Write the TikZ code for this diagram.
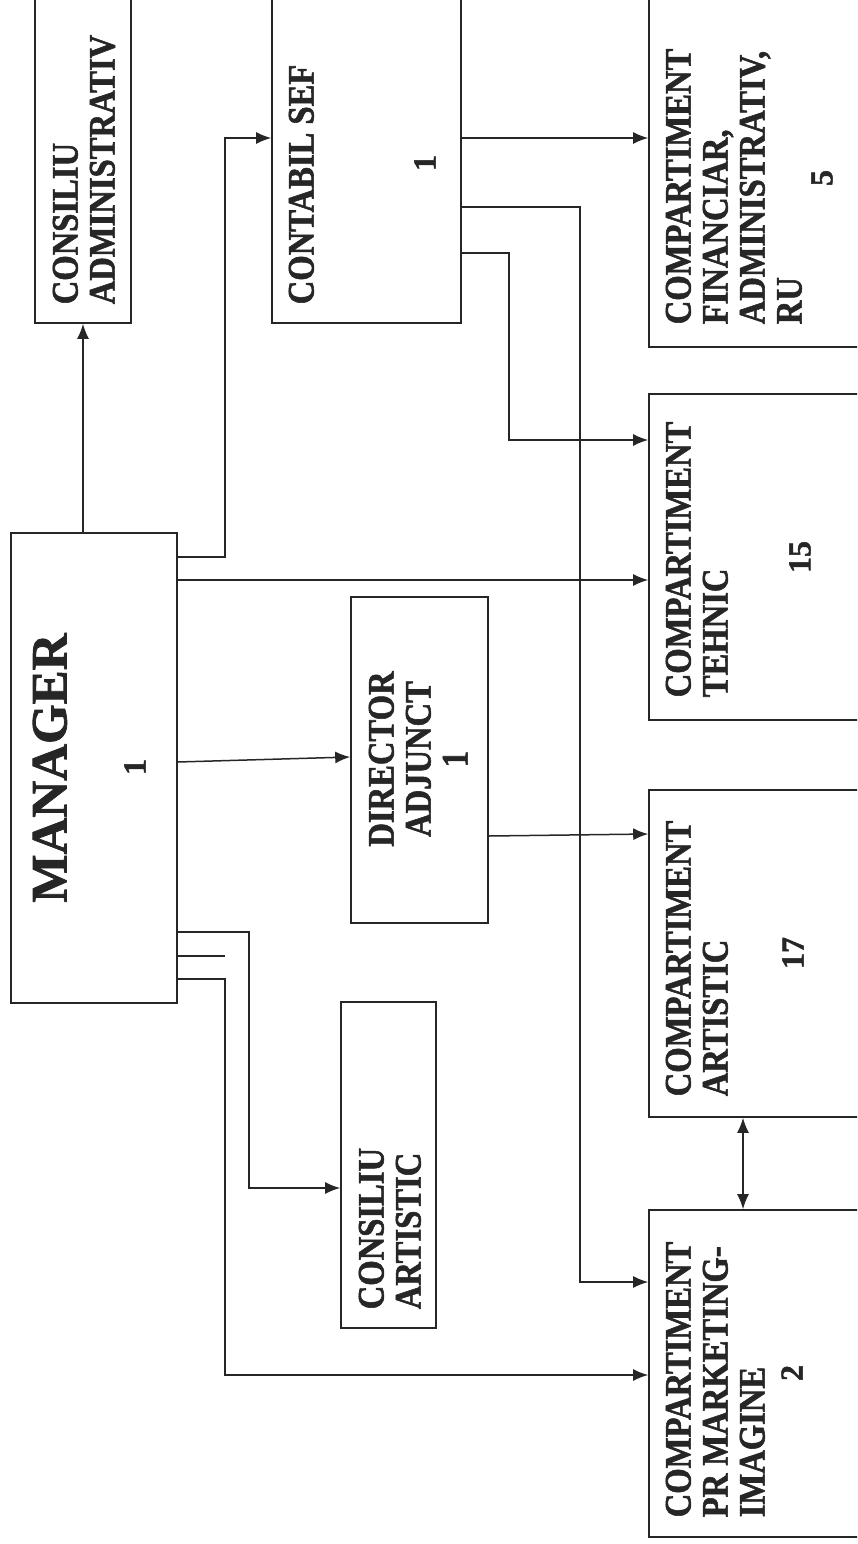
\documentclass[tikz,border=0pt]{standalone}
\usepackage{fontspec}
\setmainfont{Liberation Serif}
\newfontfamily\lblfont{Liberation Serif}[UprightFont=* Bold, FakeStretch=0.87, FakeBold=1.5]
\newfontfamily\manfont{Liberation Serif}[UprightFont=* Bold, FakeBold=1.5]
\usetikzlibrary{arrows.meta}
\tikzset{
  box/.style={draw, line width=1.6pt, inner sep=0pt},
  lbl/.style={rotate=90, anchor=north west, align=left, inner sep=0pt, font=\lblfont\fontsize{37.5}{37}\selectfont},
  num/.style={rotate=90, inner sep=0pt, font=\manfont\fontsize{32}{37}\selectfont},
  arr/.style={-{Latex[length=15pt,width=12pt]}},
  arrboth/.style={{Latex[length=15pt,width=12pt]}-{Latex[length=15pt,width=12pt]}}
}
\begin{document}
\begin{tikzpicture}[x=1pt, y=-1pt, line width=1.5pt, color=black!85]
\useasboundingbox (0,0) rectangle (857,1544);
\clip (0,0) rectangle (857,1544);
\node[box, minimum width=166pt, minimum height=470pt] (man) at (94,768) {};
\node[box, minimum width=96pt, minimum height=363pt] (cadm) at (83,141.5) {};
\node[box, minimum width=189pt, minimum height=363pt] (csef) at (366.5,141.5) {};
\node[box, minimum width=248pt, minimum height=387pt] (fin) at (773,153.5) {};
\node[box, minimum width=248pt, minimum height=326pt] (teh) at (773,557) {};
\node[box, minimum width=137pt, minimum height=326pt] (dir) at (419.5,760) {};
\node[box, minimum width=248pt, minimum height=327pt] (art) at (773,953.5) {};
\node[box, minimum width=95pt, minimum height=326pt] (cart) at (388.5,1165) {};
\node[box, minimum width=248pt, minimum height=327pt] (pr) at (773,1373.5) {};
\node[lbl, anchor=north, font=\manfont\fontsize{51}{60}\selectfont] (man_t) at (32,768) {MANAGER};
\node[num] (man_n) at (135,767) {1};
\node[lbl] (cadm_t) at (52,305) {CONSILIU\\ADMINISTRATIV};
\node[lbl] (csef_t) at (288,305) {CONTABIL SEF};
\node[num] (csef_n) at (425,163) {1};
\node[lbl] (fin_t) at (665,325) {COMPARTIMENT\\FINANCIAR,\\ADMINISTRATIV,\\RU};
\node[num] (fin_n) at (822,178) {5};
\node[lbl] (teh_t) at (665,698) {COMPARTIMENT\\TEHNIC};
\node[num] (teh_n) at (800,557) {15};
\node[lbl, anchor=north, align=center] (dir_t) at (368,759) {DIRECTOR\\ADJUNCT\\1};
\node[lbl] (art_t) at (665,1097) {COMPARTIMENT\\ARTISTIC};
\node[num] (art_n) at (793,953) {17};
\node[lbl] (cart_t) at (358,1310) {CONSILIU\\ARTISTIC};
\node[lbl] (pr_t) at (665,1518) {COMPARTIMENT\\PR MARKETING-\\IMAGINE};
\node[num] (pr_n) at (792,1373) {2};
\draw[arr] (cadm.south |- man.north) -- (cadm.south);
\draw[arr] (man.east |- 0,557) -- ++(47,0) |- (csef.west |- 0,138);
\draw[arr] (man.east |- 0,580) -- (teh.west |- 0,580);
\draw[arr] (man.east |- 0,762) -- (dir.west |- 0,757);
\draw[arr] (dir.east |- 0,836) -- (art.west |- 0,834);
\draw[arr] (csef.east |- 0,138) -- (fin.west |- 0,138);
\draw[arr] (csef.east |- 0,207) -- ++(118,0) |- (pr.west |- 0,1282);
\draw[arr] (csef.east |- 0,253) -- ++(47,0) |- (teh.west |- 0,440);
\draw[arr] (man.east |- 0,932) -- ++(71,0) |- (cart.west |- 0,1188);
\draw (man.east |- 0,956) -- ++(47,0);
\draw[arr] (man.east |- 0,979) -- ++(47,0) |- (pr.west |- 0,1375);
\draw[arrboth] (art.south -| 743,0) -- (pr.north -| 743,0);
\end{tikzpicture}
\end{document}
